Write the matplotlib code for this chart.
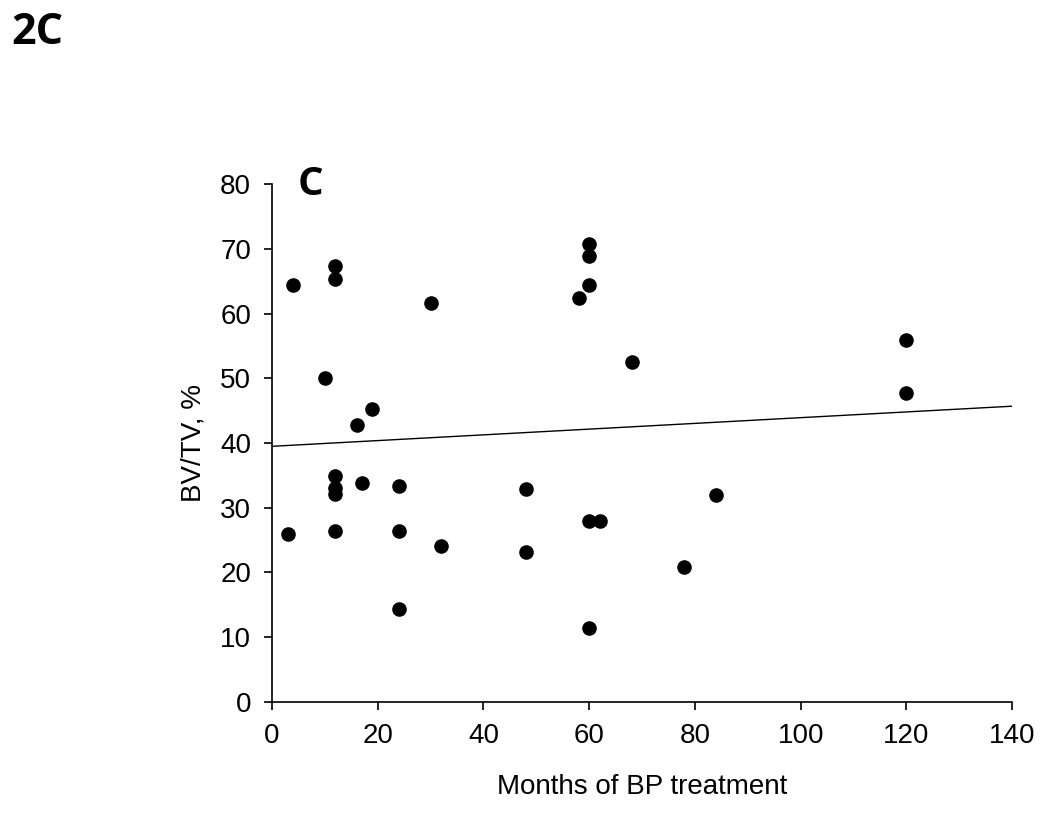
import numpy as np
import matplotlib.pyplot as plt

# Months of BP treatment vs BV/TV (%)
months = [3, 4, 10, 12, 12, 12, 12, 12, 12, 16, 17, 19, 24, 24, 24, 30,
          32, 48, 48, 58, 60, 60, 60, 60, 60, 62, 68, 78, 84, 120, 120]
bvtv = [26.0, 64.4, 50.0, 67.3, 65.4, 34.9, 33.0, 32.1, 26.4, 42.8, 33.8,
        45.3, 33.4, 26.4, 14.4, 61.7, 24.1, 32.9, 23.1, 62.4, 70.7, 68.9,
        64.4, 28.0, 11.4, 28.0, 52.6, 20.8, 31.9, 56.0, 47.8]

# Trend line as drawn in the figure (value at 0 and at 140 months)
trend_x = [0, 140]
trend_y = [39.5, 45.7]

x_ticks = [0, 20, 40, 60, 80, 100, 120, 140]
y_ticks = [0, 10, 20, 30, 40, 50, 60, 70, 80]

plt.rcParams['font.family'] = ['Liberation Sans', 'DejaVu Sans']

fig = plt.figure(figsize=(10.5, 8.19), dpi=100)
ax = fig.add_axes([0.259, 0.143, 0.705, 0.632])

ax.scatter(months, bvtv, s=90, color='black', zorder=3)
ax.plot(trend_x, trend_y, color='black', linewidth=1.0)

ax.set_xlim(0, 140)
ax.set_ylim(0, 80)
ax.set_xticks(x_ticks)
ax.set_yticks(y_ticks)
ax.tick_params(labelsize=20, length=6, width=1.2, direction='out', pad=9)

ax.spines['top'].set_visible(False)
ax.spines['right'].set_visible(False)
for side in ['left', 'bottom']:
    ax.spines[side].set_linewidth(1.2)

ax.set_xlabel('Months of BP treatment', fontsize=20, labelpad=18)
ax.set_ylabel('BV/TV, %', fontsize=20, labelpad=10)

# Panel letters
ax.text(0.035, 1.0, 'C', transform=ax.transAxes, fontsize=29,
        fontweight='bold', family=['Open Sans', 'DejaVu Sans'], va='center')
fig.text(0.011, 0.96, '2C', fontsize=31, fontweight='bold',
         family=['Open Sans', 'DejaVu Sans'], va='center')

fig.savefig('out.png', dpi=100, facecolor='white')
